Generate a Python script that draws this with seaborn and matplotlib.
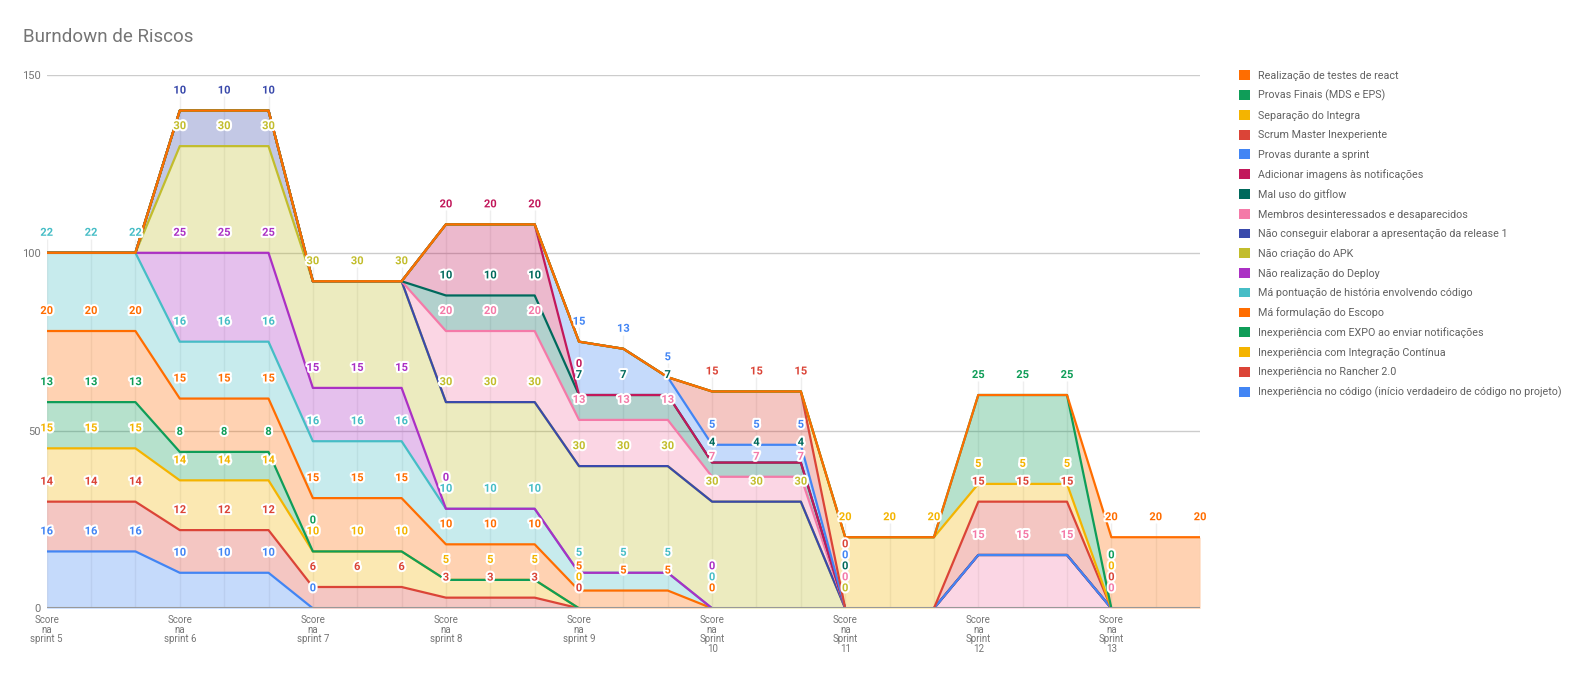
import numpy as np
import pandas as pd
import matplotlib
matplotlib.use('Agg')
import matplotlib.pyplot as plt
import matplotlib.patheffects as pe
from matplotlib.patches import Patch
import seaborn as sns

N = None

# 27 points: three per sprint, only the first of each sprint gets a tick label
points = list(range(27))
tick_points = [0, 3, 6, 9, 12, 15, 18, 21, 24]
tick_labels = ['Score\nna\nsprint 5', 'Score\nna\nsprint 6', 'Score\nna\nsprint 7',
               'Score\nna\nsprint 8', 'Score\nna\nsprint 9', 'Score\nna\nSprint\n10',
               'Score\nna\nSprint\n11', 'Score\nna\nSprint\n12', 'Score\nna\nSprint\n13']

# series, bottom of the stack first
names = [
    'Inexperiência no código (início verdadeiro de código no projeto)',
    'Inexperiência no Rancher 2.0',
    'Inexperiência com Integração Contínua',
    'Inexperiência com EXPO ao enviar notificações',
    'Má formulação do Escopo',
    'Má pontuação de história envolvendo código',
    'Não realização do Deploy',
    'Não criação do APK',
    'Não conseguir elaborar a apresentação da release 1',
    'Membros desinteressados e desaparecidos',
    'Mal uso do gitflow',
    'Adicionar imagens às notificações',
    'Provas durante a sprint',
    'Scrum Master Inexperiente',
    'Separação do Integra',
    'Provas Finais (MDS e EPS)',
    'Realização de testes de react',
]

inexp_codigo = [16, 16, 16, 10, 10, 10, 0, N, N, N, N, N, N, N, N, N, N, N, N, N, N, N, N, N, N, N, N]
inexp_rancher = [14, 14, 14, 12, 12, 12, 6, 6, 6, 3, 3, 3, 0, N, N, N, N, N, N, N, N, N, N, N, N, N, N]
inexp_ci = [15, 15, 15, 14, 14, 14, 10, 10, 10, 5, 5, 5, 0, N, N, N, N, N, N, N, N, N, N, N, N, N, N]
inexp_expo = [13, 13, 13, 8, 8, 8, 0, N, N, N, N, N, N, N, N, N, N, N, N, N, N, N, N, N, N, N, N]
ma_escopo = [20, 20, 20, 15, 15, 15, 15, 15, 15, 10, 10, 10, 5, 5, 5, 0, N, N, N, N, N, N, N, N, N, N, N]
ma_pontuacao = [22, 22, 22, 16, 16, 16, 16, 16, 16, 10, 10, 10, 5, 5, 5, 0, N, N, N, N, N, N, N, N, N, N, N]
nao_deploy = [N, N, N, 25, 25, 25, 15, 15, 15, 0, N, N, N, N, N, 0, N, N, N, N, N, N, N, N, N, N, N]
nao_apk = [N, N, N, 30, 30, 30, 30, 30, 30, 30, 30, 30, 30, 30, 30, 30, 30, 30, 0, N, N, N, N, N, N, N, N]
nao_release = [N, N, N, 10, 10, 10, N, N, N, N, N, N, N, N, N, N, N, N, N, N, N, N, N, N, N, N, N]
membros = [N, N, N, N, N, N, N, N, N, 20, 20, 20, 13, 13, 13, 7, 7, 7, 0, N, N, 15, 15, 15, 0, N, N]
gitflow = [N, N, N, N, N, N, N, N, N, 10, 10, 10, 7, 7, 7, 4, 4, 4, 0, N, N, N, N, N, N, N, N]
imagens = [N, N, N, N, N, N, N, N, N, 20, 20, 20, 0, N, N, N, N, N, N, N, N, N, N, N, N, N, N]
provas_sprint = [N, N, N, N, N, N, N, N, N, N, N, N, 15, 13, 5, 5, 5, 5, 0, N, N, N, N, N, N, N, N]
scrum_master = [N, N, N, N, N, N, N, N, N, N, N, N, N, N, N, 15, 15, 15, 0, N, N, 15, 15, 15, 0, N, N]
separacao = [N, N, N, N, N, N, N, N, N, N, N, N, N, N, N, N, N, N, 20, 20, 20, 5, 5, 5, 0, N, N]
provas_finais = [N, N, N, N, N, N, N, N, N, N, N, N, N, N, N, N, N, N, N, N, N, 25, 25, 25, 0, N, N]
testes_react = [N, N, N, N, N, N, N, N, N, N, N, N, N, N, N, N, N, N, N, N, N, N, N, N, 20, 20, 20]

series = [inexp_codigo, inexp_rancher, inexp_ci, inexp_expo, ma_escopo, ma_pontuacao,
          nao_deploy, nao_apk, nao_release, membros, gitflow, imagens, provas_sprint,
          scrum_master, separacao, provas_finais, testes_react]

palette = ['#4285F4', '#DB4437', '#F4B400', '#0F9D58', '#FF6D00', '#46BDC6',
           '#AB30C4', '#C2BD2C', '#3949AB', '#F47AA8', '#00695C', '#C2185B']
colors = [palette[i % len(palette)] for i in range(len(names))]


def plot_burndown():
    sns.set_style('white')
    plt.rcParams['font.family'] = ['Roboto', 'DejaVu Sans']

    vals = np.array([[np.nan if v is None else v for v in s] for s in series], dtype=float)
    filled = np.nan_to_num(vals)
    top = np.cumsum(filled, axis=0)
    bottom = top - filled

    fig = plt.figure(figsize=(15.85, 6.73), dpi=100)
    ax = fig.add_axes([0.02946, 0.0961, 0.7277, 0.7924])
    ax.set_xlim(0, 26)
    ax.set_ylim(0, 150)

    # faint stems under each label
    ax.vlines(points, 0, top[-1] + 4, color='#eeeeee', lw=1, zorder=0.5)

    for i in range(len(names)):
        ax.fill_between(points, bottom[i], top[i], color=colors[i], alpha=0.3, lw=0, zorder=1)

    long = pd.DataFrame({
        'x': np.tile(points, len(names)),
        'top': top.ravel(),
        'serie': np.repeat(names, len(points)),
    })
    sns.lineplot(data=long, x='x', y='top', hue='serie', hue_order=names,
                 palette=dict(zip(names, colors)), lw=1.6, legend=False, ax=ax, zorder=2)

    # data labels, pushed up when they collide (same way the source chart does)
    for j in points:
        last = None
        for i in range(len(names)):
            if np.isnan(vals[i, j]):
                continue
            y_disp = ax.transData.transform((j, top[i, j]))[1]
            target = y_disp + 20
            if last is not None and target < last + 11:
                target = last + 11
            last = target
            ax.annotate(f'{int(vals[i, j])}', xy=(j, top[i, j]), xytext=(0, target - y_disp),
                        textcoords='offset pixels', ha='center', va='center',
                        fontsize=8, fontweight='bold', color=colors[i], zorder=5,
                        annotation_clip=False,
                        path_effects=[pe.withStroke(linewidth=3, foreground='white')])

    ax.set_yticks([0, 50, 100, 150])
    ax.set_xticks(tick_points)
    ax.set_xticklabels(tick_labels, linespacing=0.95)
    ax.grid(axis='y', color='#cccccc', lw=1)
    ax.grid(axis='x', visible=False)
    ax.axhline(0, color='#999999', lw=1.5, zorder=3)
    for s in ax.spines.values():
        s.set_visible(False)
    ax.tick_params(axis='y', length=0, pad=4.5, labelsize=8, labelcolor='#757575')
    ax.tick_params(axis='x', length=0, pad=5, labelsize=7, labelcolor='#757575')
    ax.set_xlabel('')
    ax.set_ylabel('')

    fig.text(23 / 1585, 1 - 37 / 673, 'Burndown de Riscos', fontsize=13.5,
             color='#757575', ha='left', va='center')

    handles = [Patch(facecolor=colors[i], edgecolor='none') for i in range(len(names))][::-1]
    fig.legend(handles, names[::-1], loc='upper left',
               bbox_to_anchor=(1239 / 1585, 1 - 70 / 673), frameon=False,
               fontsize=7.75, labelcolor='#616161', handlelength=1.03, handleheight=1.03,
               handletextpad=0.75, labelspacing=0.84, borderaxespad=0, borderpad=0)

    fig.savefig('out.png', dpi=100)
    plt.close(fig)


if __name__ == '__main__':
    plot_burndown()
